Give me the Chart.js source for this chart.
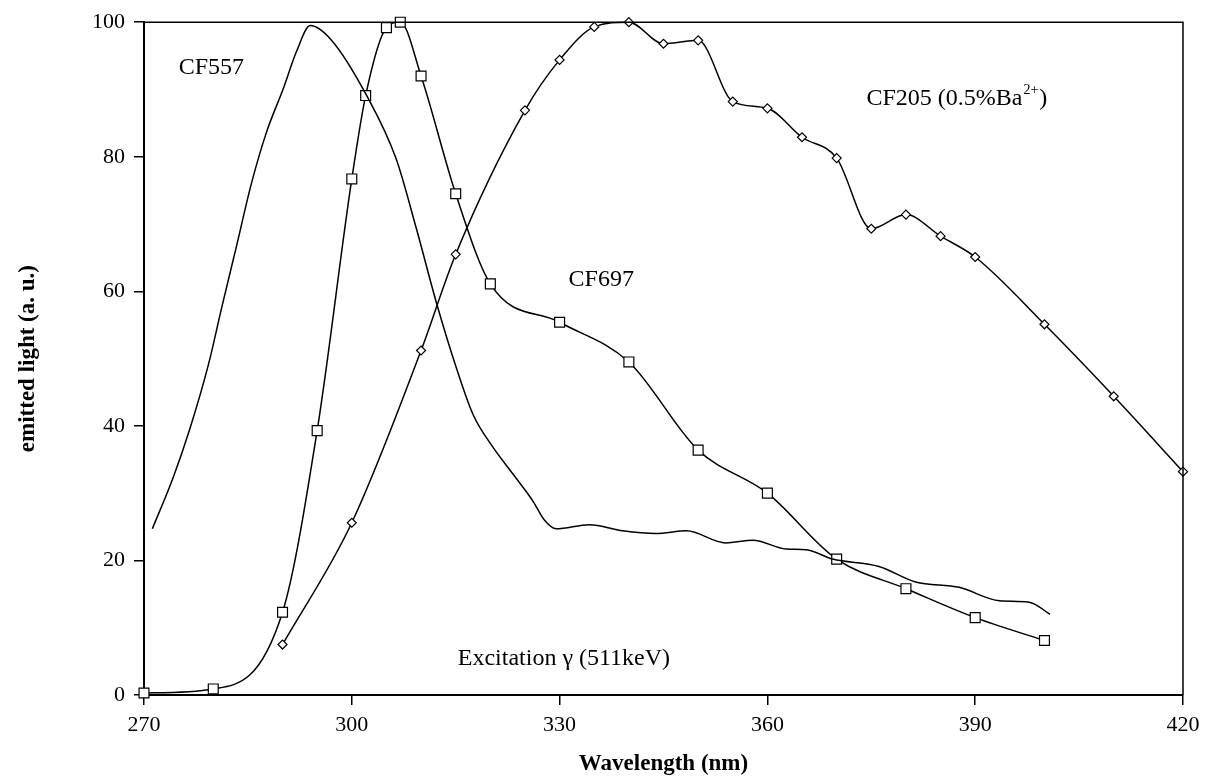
<!DOCTYPE html>
<html lang="en">
<head>
<meta charset="UTF-8">
<title>Emission spectra</title>
<script src="https://cdn.jsdelivr.net/npm/chart.js"></script>
<style>
    body { margin: 0; background: #fff; }
    .chart-container { position: relative; width: 1212px; height: 778px; }
</style>
</head>
<body>
<div class="chart-container"><canvas id="spectraChart"></canvas></div>
<script>
    // CF557 - continuous spectrum, no markers
    const cf557Wavelengths = [271.2, 274.2, 276.6, 279.3, 281.2, 283.4, 285.5, 287.7, 290.1, 292.0, 294.0, 297.0,
        302.2, 306.4, 309.3, 312.3, 315.1, 317.5, 320.4, 323.3, 326.1, 327.8, 329.5, 334.3, 339.1, 343.9, 348.3,
        354.0, 357.9, 362.7, 365.6, 369.4, 376.1, 381.4, 387.7, 393.5, 397.8, 400.8];
    const cf557Values = [24.7, 32.3, 39.5, 49.1, 57.5, 66.9, 76.0, 83.7, 90.1, 95.6, 99.5, 97.4,
        89.0, 79.7, 69.4, 58.0, 48.6, 41.7, 36.8, 32.8, 28.9, 26.0, 24.7, 25.3, 24.4, 24.0, 24.4,
        22.6, 23.0, 21.7, 21.6, 20.2, 19.1, 16.8, 16.0, 14.0, 13.8, 12.0];

    // CF697 - squares
    const cf697Wavelengths = [270, 280, 290, 295, 300, 302, 305, 307, 310, 315, 320, 330, 340, 350, 360, 370, 380, 390, 400];
    const cf697Values = [0.3, 0.9, 12.3, 39.3, 76.7, 89.1, 99.2, 100, 92.0, 74.5, 61.1, 55.4, 49.5, 36.4, 30.0, 20.2, 15.8, 11.5, 8.1];

    // CF205 (0.5% Ba2+) - diamonds
    const cf205Wavelengths = [290, 300, 310, 315, 325, 330, 335, 340, 345, 350, 355, 360, 365, 370, 375, 380, 385, 390, 400, 410, 420];
    const cf205Values = [7.5, 25.6, 51.2, 65.5, 86.9, 94.4, 99.3, 100, 96.8, 97.3, 88.2, 87.2, 82.9, 79.8, 69.3, 71.4, 68.2, 65.1, 55.1, 44.4, 33.2];

    // text labels placed in data units (left edge, baseline)
    const labelTexts = ['CF557', 'CF697', 'CF205 (0.5%Ba', 'Excitation \u03b3 (511keV)'];
    const labelX = [275.0, 331.3, 374.3, 315.3];
    const labelY = [92.3, 60.8, 87.7, 4.4];

    const xTicks = [270, 300, 330, 360, 390, 420];
    const yTicks = [0, 20, 40, 60, 80, 100];

    const serif = "'Liberation Serif', 'Times New Roman', serif";

    function toPoints(xs, ys) {
        return xs.map((x, i) => ({ x: x, y: ys[i] }));
    }

    const framePlugin = {
        id: 'frame',
        afterDatasetsDraw(chart) {
            const { ctx, chartArea: a } = chart;
            ctx.save();
            ctx.strokeStyle = '#000';
            ctx.lineWidth = 1.5;
            ctx.beginPath();
            ctx.moveTo(a.left, a.top);
            ctx.lineTo(a.right, a.top);
            ctx.lineTo(a.right, a.bottom);
            ctx.stroke();
            ctx.restore();
        }
    };

    const labelPlugin = {
        id: 'curveLabels',
        afterDraw(chart) {
            const { ctx, scales } = chart;
            ctx.save();
            ctx.fillStyle = '#000';
            ctx.textBaseline = 'alphabetic';
            ctx.textAlign = 'left';
            labelTexts.forEach((txt, i) => {
                const px = scales.x.getPixelForValue(labelX[i]);
                const py = scales.y.getPixelForValue(labelY[i]);
                ctx.font = '24px ' + serif;
                ctx.fillText(txt, px, py);
                if (i === 2) {
                    let w = ctx.measureText(txt).width;
                    ctx.font = '14px ' + serif;
                    ctx.fillText('2+', px + w + 1, py - 11);
                    w += ctx.measureText('2+').width + 2;
                    ctx.font = '24px ' + serif;
                    ctx.fillText(')', px + w, py);
                }
            });
            ctx.restore();
        }
    };

    new Chart(document.getElementById('spectraChart'), {
        type: 'line',
        data: {
            datasets: [
                {
                    label: 'CF557',
                    data: toPoints(cf557Wavelengths, cf557Values),
                    borderColor: '#000',
                    borderWidth: 1.5,
                    pointRadius: 0,
                    cubicInterpolationMode: 'monotone',
                    clip: false
                },
                {
                    label: 'CF697',
                    data: toPoints(cf697Wavelengths, cf697Values),
                    borderColor: '#000',
                    borderWidth: 1.5,
                    pointStyle: 'rect',
                    pointRadius: 7,
                    pointBorderWidth: 1.2,
                    pointBackgroundColor: '#fff',
                    pointBorderColor: '#000',
                    cubicInterpolationMode: 'monotone',
                    clip: false
                },
                {
                    label: 'CF205',
                    data: toPoints(cf205Wavelengths, cf205Values),
                    borderColor: '#000',
                    borderWidth: 1.5,
                    pointStyle: 'rectRot',
                    pointRadius: 4.5,
                    pointBorderWidth: 1.2,
                    pointBackgroundColor: '#fff',
                    pointBorderColor: '#000',
                    cubicInterpolationMode: 'monotone',
                    clip: false
                }
            ]
        },
        options: {
            responsive: true,
            maintainAspectRatio: false,
            animation: false,
            events: [],
            layout: { padding: { left: 0, right: 29, top: 19, bottom: 0 } },
            plugins: {
                legend: { display: false },
                tooltip: { enabled: false }
            },
            scales: {
                x: {
                    type: 'linear',
                    min: 270,
                    max: 420,
                    afterFit: s => { s.height = 83; },
                    afterBuildTicks: s => { s.ticks = xTicks.map(v => ({ value: v })); },
                    border: { color: '#000', width: 2 },
                    grid: { drawOnChartArea: false, color: '#000', tickLength: 10, lineWidth: 1.5 },
                    ticks: { color: '#000', padding: 7, maxRotation: 0, font: { family: serif, size: 22 } },
                    title: {
                        display: true,
                        text: 'Wavelength (nm)',
                        color: '#000',
                        font: { family: serif, size: 23, weight: 'bold' },
                        padding: { top: 1, bottom: 0 }
                    }
                },
                y: {
                    min: 0,
                    max: 100,
                    afterFit: s => { s.width = 144; },
                    afterBuildTicks: s => { s.ticks = yTicks.map(v => ({ value: v })); },
                    border: { color: '#000', width: 2 },
                    grid: { drawOnChartArea: false, color: '#000', tickLength: 10, lineWidth: 1.5 },
                    ticks: { color: '#000', padding: 9, font: { family: serif, size: 22 } },
                    title: {
                        display: true,
                        text: 'emitted light (a. u.)',
                        color: '#000',
                        font: { family: serif, size: 23, weight: 'bold' },
                        padding: { top: 14, bottom: 0 }
                    }
                }
            }
        },
        plugins: [framePlugin, labelPlugin]
    });
</script>
</body>
</html>
